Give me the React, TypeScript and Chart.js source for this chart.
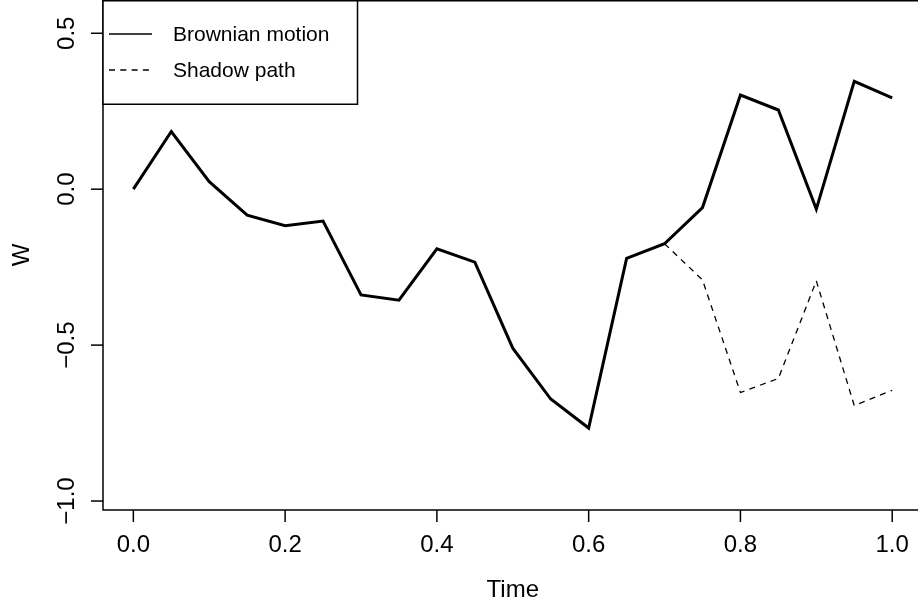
import React, { useEffect, useRef } from "react";
import { Chart, registerables } from "chart.js";

Chart.register(...registerables);

const times = [0, 0.05, 0.1, 0.15, 0.2, 0.25, 0.3, 0.35, 0.4, 0.45, 0.5, 0.55, 0.6, 0.65, 0.7, 0.75, 0.8, 0.85, 0.9, 0.95, 1.0];
const brownian = [0, 0.185, 0.024, -0.083, -0.117, -0.102, -0.339, -0.356, -0.191, -0.234, -0.51, -0.673, -0.766, -0.222, -0.175, -0.059, 0.302, 0.254, -0.064, 0.346, 0.293];
const shadowTimes = [0.7, 0.75, 0.8, 0.85, 0.9, 0.95, 1.0];
const shadowValues = [-0.175, -0.291, -0.652, -0.607, -0.294, -0.694, -0.645];

const xTicks = [0, 0.2, 0.4, 0.6, 0.8, 1.0];
const xTickLabels = ["0.0", "0.2", "0.4", "0.6", "0.8", "1.0"];
const yTicks = [-1.0, -0.5, 0, 0.5];
const yTickLabels = ["\u22121.0", "\u22120.5", "0.0", "0.5"];
const legendLabels = ["Brownian motion", "Shadow path"];
const xTitle = "Time";
const yTitle = "W";

const FONT = "'Liberation Sans', Arial, Helvetica, sans-serif";

const basePlot = {
  id: "basePlot",
  afterDraw(chart: any) {
    const ctx = chart.ctx as CanvasRenderingContext2D;
    const { left, top, right, bottom } = chart.chartArea;
    const xs = chart.scales.x;
    const ys = chart.scales.y;
    ctx.save();
    ctx.strokeStyle = "#000";
    ctx.fillStyle = "#000";
    ctx.lineWidth = 1.5;
    ctx.setLineDash([]);
    // box (right edge lies beyond canvas)
    ctx.beginPath();
    ctx.moveTo(right + 10, top + 0.75);
    ctx.lineTo(left, top + 0.75);
    ctx.lineTo(left, bottom);
    ctx.lineTo(right + 10, bottom);
    ctx.stroke();
    // x ticks
    ctx.font = `24px ${FONT}`;
    ctx.textAlign = "center";
    ctx.textBaseline = "middle";
    xTicks.forEach((v, i) => {
      const px = xs.getPixelForValue(v);
      ctx.beginPath();
      ctx.moveTo(px, bottom);
      ctx.lineTo(px, bottom + 12);
      ctx.stroke();
      ctx.fillText(xTickLabels[i], px, bottom + 35);
    });
    // y ticks
    yTicks.forEach((v, i) => {
      const py = ys.getPixelForValue(v);
      ctx.beginPath();
      ctx.moveTo(left, py);
      ctx.lineTo(left - 12, py);
      ctx.stroke();
      ctx.save();
      ctx.translate(left - 36, py);
      ctx.rotate(-Math.PI / 2);
      ctx.fillText(yTickLabels[i], 0, 0);
      ctx.restore();
    });
    // axis titles
    ctx.fillText(xTitle, xs.getPixelForValue(0.5), bottom + 80);
    ctx.save();
    ctx.translate(22.5, (top + bottom) / 2);
    ctx.rotate(-Math.PI / 2);
    ctx.fillText(yTitle, 0, 0);
    ctx.restore();
    // legend
    const lx = left, ly = top + 0.75, lw = 254.5, lh = 103.5;
    ctx.fillStyle = "#fff";
    ctx.fillRect(lx, ly, lw, lh);
    ctx.strokeStyle = "#000";
    ctx.lineWidth = 1.5;
    ctx.strokeRect(lx, ly, lw, lh);
    ctx.lineWidth = 1.3;
    ctx.beginPath();
    ctx.moveTo(lx + 6, 34);
    ctx.lineTo(lx + 49, 34);
    ctx.stroke();
    ctx.setLineDash([6, 5.3]);
    ctx.beginPath();
    ctx.moveTo(lx + 6, 70);
    ctx.lineTo(lx + 49, 70);
    ctx.stroke();
    ctx.setLineDash([]);
    ctx.fillStyle = "#000";
    ctx.font = `21px ${FONT}`;
    ctx.textAlign = "left";
    ctx.fillText(legendLabels[0], lx + 70, 35);
    ctx.fillText(legendLabels[1], lx + 70, 71);
    ctx.restore();
  },
};

export default function App() {
  const ref = useRef<HTMLCanvasElement>(null);
  useEffect(() => {
    if (!ref.current) return;
    const chart = new Chart(ref.current, {
      type: "line",
      data: {
        datasets: [
          {
            label: legendLabels[0],
            data: times.map((t, i) => ({ x: t, y: brownian[i] })),
            borderColor: "#000",
            borderWidth: 3,
            pointRadius: 0,
            tension: 0,
            fill: false,
          },
          {
            label: legendLabels[1],
            data: shadowTimes.map((t, i) => ({ x: t, y: shadowValues[i] })),
            borderColor: "#000",
            borderWidth: 1.3,
            borderDash: [6, 5.3],
            pointRadius: 0,
            tension: 0,
            fill: false,
          },
        ],
      },
      options: {
        animation: false,
        responsive: false,
        devicePixelRatio: 1,
        layout: { padding: { left: 103, top: 0, right: 0, bottom: 95 } },
        plugins: { legend: { display: false }, tooltip: { enabled: false } },
        scales: {
          x: { type: "linear", min: -0.04, max: 1.034, display: false },
          y: { type: "linear", min: -1.0288, max: 0.6067, display: false },
        },
      },
      plugins: [basePlot],
    });
    return () => chart.destroy();
  }, []);
  return (
    <div style={{ position: "absolute", left: 0, top: 0, width: 918, height: 605, background: "#fff", overflow: "hidden" }}>
      <canvas ref={ref} width={918} height={605} style={{ display: "block" }} />
    </div>
  );
}
